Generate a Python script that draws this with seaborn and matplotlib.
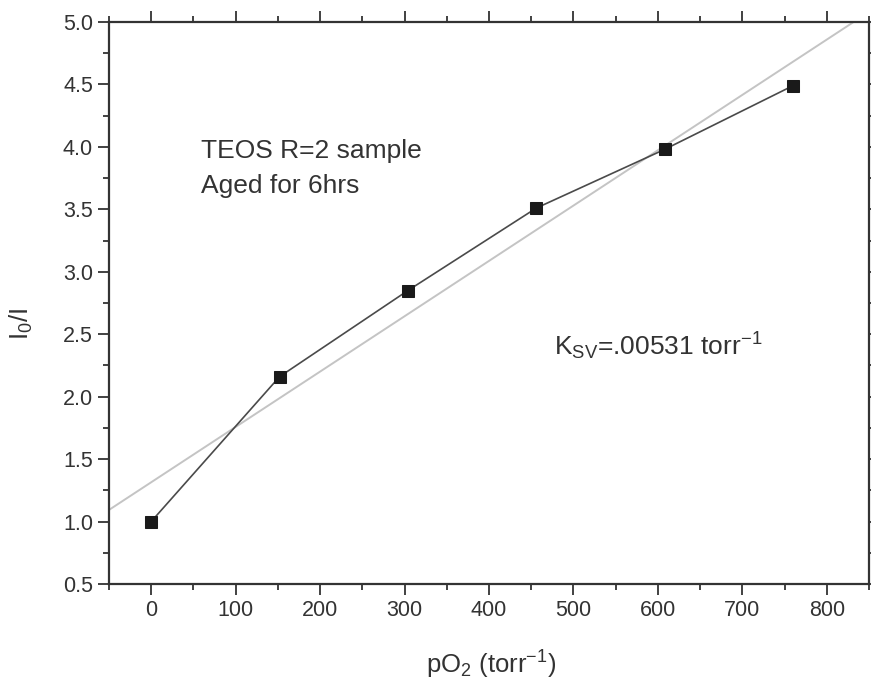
import matplotlib
matplotlib.use("Agg")
import matplotlib.pyplot as plt
from matplotlib.ticker import MultipleLocator, FormatStrFormatter
import pandas as pd
import seaborn as sns

# Stern-Volmer quenching data
po2 = [0, 152, 304, 456, 608, 760]
ratio = [1.00, 2.16, 2.85, 3.51, 3.98, 4.49]
sample_lines = ["TEOS R=2 sample", "Aged for 6hrs"]
ksv_note = r"K$_{SV}$=.00531 torr$^{-1}$"

df = pd.DataFrame({"pO2": po2, "ratio": ratio})

sns.set_theme(style="ticks")
plt.rcParams["font.family"] = ["Liberation Sans", "DejaVu Sans"]
plt.rcParams["mathtext.default"] = "regular"

ink = "#333333"
fig = plt.figure(figsize=(8.71, 6.83), dpi=100)
ax = fig.add_axes([0.1251, 0.1449, 0.8726, 0.8229])
ax.set_xlim(-50, 850)
ax.set_ylim(0.5, 5.0)

# linear fit across the full axis range
sns.regplot(data=df, x="pO2", y="ratio", ax=ax, scatter=False, ci=None,
            truncate=False, color="#c4c4c4", line_kws={"lw": 1.4})
# measured points joined by a line
sns.lineplot(data=df, x="pO2", y="ratio", ax=ax, color="#4a4a4a", lw=1.2,
             marker="s", markersize=8, markerfacecolor="#1a1a1a",
             markeredgecolor="#1a1a1a")

ax.set_xlim(-50, 850)
ax.set_ylim(0.5, 5.0)
ax.xaxis.set_major_locator(MultipleLocator(100))
ax.xaxis.set_minor_locator(MultipleLocator(50))
ax.yaxis.set_major_locator(MultipleLocator(0.5))
ax.yaxis.set_minor_locator(MultipleLocator(0.25))
ax.yaxis.set_major_formatter(FormatStrFormatter("%.1f"))

ax.tick_params(which="both", direction="out", top=True, right=True,
               colors=ink, labelcolor=ink, width=1.3)
ax.tick_params(which="major", length=8, labelsize=15.5)
ax.tick_params(which="minor", length=4)
for s in ax.spines.values():
    s.set_visible(True)
    s.set_color(ink)
    s.set_linewidth(1.6)

ax.set_xlabel(r"pO$_2$ (torr$^{-1}$)", fontsize=18.5, color=ink)
ax.set_ylabel(r"I$_0$/I", fontsize=18.5, color=ink)
ax.xaxis.set_label_coords(0.503, -0.115)
ax.yaxis.set_label_coords(-0.097, 0.463)

ax.text(59, 3.91, sample_lines[0], fontsize=19, color=ink, va="baseline")
ax.text(59, 3.63, sample_lines[1], fontsize=19, color=ink, va="baseline")
ax.text(477, 2.33, ksv_note, fontsize=19, color=ink, va="baseline")

fig.savefig("out.png", dpi=100)
